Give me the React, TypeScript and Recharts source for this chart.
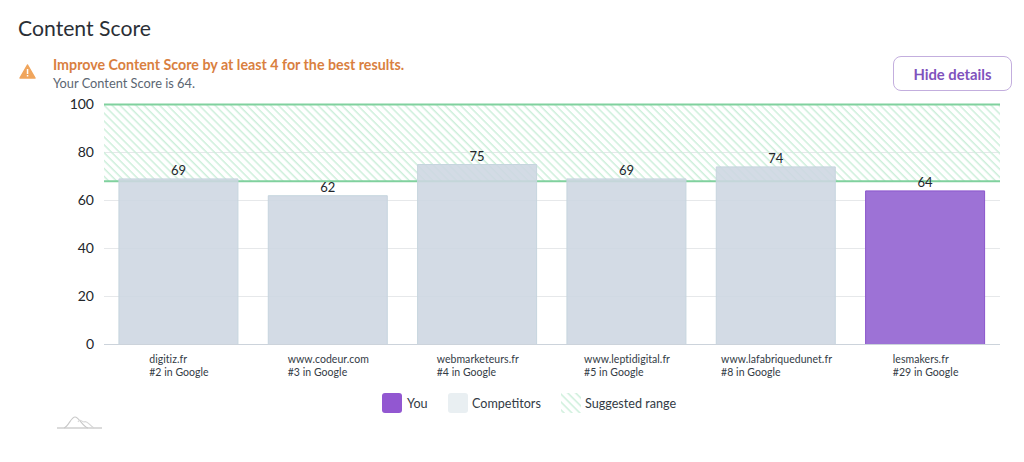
import { BarChart, Bar, XAxis, YAxis, CartesianGrid, ReferenceArea, ReferenceLine, LabelList, Legend, Cell } from "recharts";

const DOMAINS = ["digitiz.fr", "www.codeur.com", "webmarketeurs.fr", "www.leptidigital.fr", "www.lafabriquedunet.fr", "lesmakers.fr"];
const RANKS = ["#2 in Google", "#3 in Google", "#4 in Google", "#5 in Google", "#8 in Google", "#29 in Google"];
const SCORES = [69, 62, 75, 69, 74, 64];
const Y_TICKS = [0, 20, 40, 60, 80, 100];
const RANGE_LOW = 68;
const RANGE_HIGH = 100;

const data = DOMAINS.map((domain, i) => ({ domain, rank: RANKS[i], score: SCORES[i] }));

const FONT = "Lato, sans-serif";
const GREEN = "#80d19e";
const HATCH = "#cdefdb";
const PURPLE = "#9d72d6";
const SLATE = "#cdd6e1"; // posé à 0.88 d'opacité, les hachures restent visibles dessous
const TICK_SIZE = 10.5;

function measure(text: string, size: number) {
  const ctx = document.createElement("canvas").getContext("2d");
  if (!ctx) return text.length * size * 0.5;
  ctx.font = `${size}px Lato`;
  return ctx.measureText(text).width;
}

// bloc centré sous la barre, lignes alignées à gauche
function DomainTick({ x, y, payload, index }: any) {
  const w = Math.max(measure(payload.value, TICK_SIZE), measure(RANKS[index], TICK_SIZE));
  return (
    <text x={x - w / 2} y={y + 10} fontSize={TICK_SIZE} fontFamily={FONT} fill="#333b45" letterSpacing={0.05}>
      <tspan x={x - w / 2}>{payload.value}</tspan>
      <tspan x={x - w / 2} dy={13}>{RANKS[index]}</tspan>
    </text>
  );
}

function Hatch({ size }: { size: number }) {
  return (
    <svg width={size} height={size} style={{ display: "block" }}>
      <rect width={size} height={size} fill="url(#rangeHatch)" />
    </svg>
  );
}

function LegendRow() {
  const box = { width: 20, height: 20, borderRadius: 3 };
  const label = { marginLeft: 5, fontSize: 12.6, color: "#333b45" };
  return (
    <div style={{ display: "flex", justifyContent: "flex-start", paddingLeft: 318, height: 20, alignItems: "center", fontFamily: FONT }}>
      <div style={{ ...box, background: "#9257d1" }} />
      <span style={{ ...label, width: 41 }}>You</span>
      <div style={{ ...box, background: "#e9eff2" }} />
      <span style={{ ...label, marginLeft: 4, width: 89 }}>Competitors</span>
      <Hatch size={20} />
      <span style={{ ...label, marginLeft: 4 }}>Suggested range</span>
    </div>
  );
}

export default function App() {
  return (
    <div style={{ position: "absolute", left: 0, top: 0, width: 1024, height: 462, background: "#fff", fontFamily: FONT, overflow: "hidden" }}>
      <div style={{ position: "absolute", left: 18, top: 15, fontSize: 21.2, color: "#2b2f36" }}>Content Score</div>

      <svg style={{ position: "absolute", left: 19, top: 64 }} width={17} height={15} viewBox="0 0 17 15">
        <path d="M8.5 1 L16 14 L1 14 Z" fill="#f0a55c" stroke="#f0a55c" strokeWidth={1.5} strokeLinejoin="round" />
        <rect x={7.8} y={5} width={1.5} height={5} fill="#fff" />
        <rect x={7.8} y={11} width={1.5} height={1.5} fill="#fff" />
      </svg>
      <div style={{ position: "absolute", left: 53, top: 56, fontSize: 14.25, fontWeight: 700, color: "#d9803f" }}>
        Improve Content Score by at least 4 for the best results.
      </div>
      <div style={{ position: "absolute", left: 53, top: 75, fontSize: 12.8, color: "#5b6672" }}>Your Content Score is 64.</div>

      <div style={{
        position: "absolute", left: 893, top: 56, width: 117, height: 33, border: "1px solid #c3aede", borderRadius: 8,
        display: "flex", alignItems: "center", justifyContent: "center", fontSize: 14.8, fontWeight: 700, color: "#7f52bd",
      }}>
        Hide details
      </div>

      <div style={{ position: "absolute", left: 0, top: 0 }}>
        <BarChart width={1024} height={462} data={data} barCategoryGap="10%" margin={{ top: 104.5, right: 24, bottom: 49, left: 64 }}>
          <defs>
            <pattern id="rangeHatch" width={5.6} height={5.6} patternUnits="userSpaceOnUse" patternTransform="rotate(45)">
              <rect x={0} y={0} width={5.6} height={1.5} fill={HATCH} />
            </pattern>
          </defs>
          <CartesianGrid vertical={false} stroke="#e6e8ea" />
          <XAxis dataKey="domain" height={48.5} interval={0} axisLine={{ stroke: "#ccd3db" }} tickLine={false} tick={<DomainTick />} />
          <YAxis width={40} domain={[0, 100]} ticks={Y_TICKS} axisLine={false} tickLine={false} tickMargin={4}
            tick={{ fill: "#22262b", fontSize: 14, fontFamily: FONT }} />
          <ReferenceArea y1={RANGE_LOW} y2={RANGE_HIGH} fill="url(#rangeHatch)" fillOpacity={1} stroke="none" zIndex={100} />
          <ReferenceLine y={RANGE_HIGH} stroke={GREEN} strokeWidth={2} zIndex={100} />
          <ReferenceLine y={RANGE_LOW} stroke={GREEN} strokeWidth={2} zIndex={100} />
          <Bar dataKey="score" isAnimationActive={false} fill={SLATE} stroke="#c6d5de">
            {data.map((_, i) => (
              <Cell key={i} fill={i === 5 ? PURPLE : SLATE} fillOpacity={i === 5 ? 1 : 0.88} stroke={i === 5 ? "#8a55cc" : "#c6d5de"} />
            ))}
            <LabelList dataKey="score" position="top" offset={4} fill="#22262b" fontSize={13} fontFamily={FONT} />
          </Bar>
          <Legend verticalAlign="bottom" content={<LegendRow />} />
        </BarChart>
      </div>

      <svg style={{ position: "absolute", left: 56, top: 414 }} width={48} height={16} fill="none">
        <path d="M1 14 H46" stroke="#cfcfcf" strokeWidth={1.4} />
        <path d="M8 14 C13 12 15 3 19 3 C23 3 27 13 32 14" stroke="#c8c8c8" strokeWidth={1.1} />
        <path d="M22 8 C24 4 26 8 28 8 C31 6 33 11 38 14" stroke="#d6d6d6" strokeWidth={1.1} />
      </svg>
    </div>
  );
}
